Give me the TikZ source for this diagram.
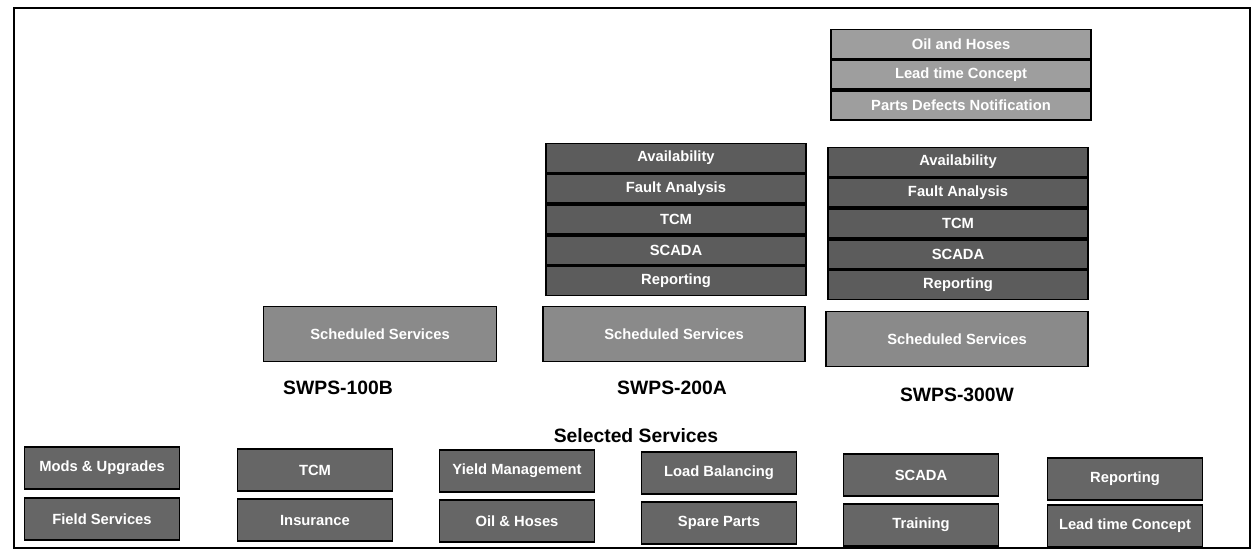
\documentclass[tikz,border=0pt]{standalone}
\usepackage{fontspec}
\setmainfont{Liberation Sans}
\usetikzlibrary{positioning}

\definecolor{topgray}{gray}{0.62}
\definecolor{midgray}{gray}{0.36}
\definecolor{schedgray}{gray}{0.54}
\definecolor{selgray}{gray}{0.40}

\begin{document}
\begin{tikzpicture}[x=0.02cm,y=-0.02cm,
            every node/.style={inner sep=0pt,text=white,font=\fontsize{8.4}{9}\selectfont\bfseries},
            cell/.style={draw=black,line width=1pt,minimum width=5.2cm,minimum height=0.58cm},
            topcell/.style={cell,fill=topgray},
            midcell/.style={cell,fill=midgray},
            sched/.style={draw=black,line width=1pt,fill=schedgray,minimum height=1.1cm},
            sel/.style={draw=black,line width=1pt,fill=selgray,minimum width=3.1cm,minimum height=0.84cm},
            model/.style={text=black,font=\fontsize{11}{13}\selectfont\bfseries}]
            \useasboundingbox (0,0) rectangle (1253,560);
            \draw[line width=1.1pt] (14,8) rectangle (1250,548);

            % SWPS-300W extra services
            \node[topcell] (oil) at (961,44) {Oil and Hoses};
            \node[topcell, below=0pt of oil] (lead) {Lead time Concept};
            \node[topcell, below=0pt of lead] (defects) {Parts Defects Notification};

            % SWPS-200A monitoring
            \node[midcell] (avA) at (676,158) {Availability};
            \node[midcell, below=0pt of avA] (faA) {Fault Analysis};
            \node[midcell, below=0pt of faA] (tcmA) {TCM};
            \node[midcell, below=0pt of tcmA] (scA) {SCADA};
            \node[midcell, below=0pt of scA] (repA) {Reporting};

            % SWPS-300W monitoring
            \node[midcell] (avW) at (958,162) {Availability};
            \node[midcell, below=0pt of avW] (faW) {Fault Analysis};
            \node[midcell, below=0pt of faW] (tcmW) {TCM};
            \node[midcell, below=0pt of tcmW] (scW) {SCADA};
            \node[midcell, below=0pt of scW] (repW) {Reporting};

            % scheduled services
            \node[sched,minimum width=4.66cm] (schB) at (380,334) {Scheduled Services};
            \node[sched,minimum width=5.24cm] (schA) at (674,334) {Scheduled Services};
            \node[sched,minimum width=5.24cm] (schW) at (957,339) {Scheduled Services};

            \node[model] (modB) at (338,388) {SWPS-100B};
            \node[model] (modA) at (672,388) {SWPS-200A};
            \node[model] (modW) at (957,395) {SWPS-300W};
            \node[model] (selected) at (636,436) {Selected Services};

            % selected services
            \node[sel] (mods) at (102,468) {Mods \& Upgrades};
            \node[sel] (field) at (102,519) {Field Services};
            \node[sel] (tcm) at (315,470) {TCM};
            \node[sel] (ins) at (315,520) {Insurance};
            \node[sel] (yield) at (517,471) {Yield Management};
            \node[sel] (hoses) at (517,521) {Oil \& Hoses};
            \node[sel] (load) at (719,473) {Load Balancing};
            \node[sel] (spare) at (719,523) {Spare Parts};
            \node[sel] (scada) at (921,475) {SCADA};
            \node[sel] (train) at (921,525) {Training};
            \node[sel] (rep) at (1125,479) {Reporting};
            \node[sel] (leadt) at (1125,526) {Lead time Concept};
        \end{tikzpicture}
\end{document}
